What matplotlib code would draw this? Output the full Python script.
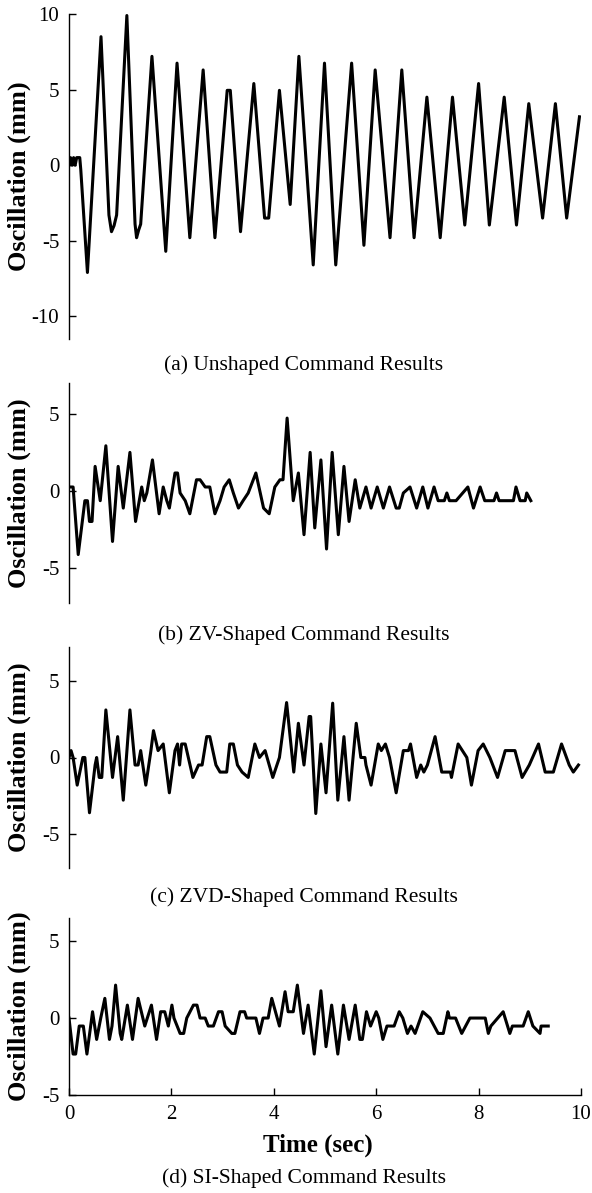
import numpy as np
import matplotlib
matplotlib.use('Agg')
import matplotlib.pyplot as plt

plt.rcParams['font.family'] = 'serif'
plt.rcParams['font.serif'] = ['Liberation Serif', 'DejaVu Serif']
plt.rcParams['axes.unicode_minus'] = False

# (a) unshaped command - turning points
t_a = [0.00, 0.03, 0.06, 0.09, 0.12, 0.15, 0.21, 0.23, 0.36, 0.625, 0.78, 0.83, 0.88, 0.93,
       1.13, 1.29, 1.32, 1.36, 1.40, 1.62, 1.89, 2.11, 2.36, 2.62, 2.85, 3.09, 3.15, 3.35,
       3.61, 3.82, 3.90, 4.11, 4.32, 4.49, 4.77, 4.99, 5.21, 5.52, 5.76, 5.98, 6.27, 6.50,
       6.74, 6.99, 7.25, 7.49, 7.73, 8.00, 8.21, 8.50, 8.74, 8.98, 9.25, 9.50, 9.72, 9.97]
y_a = [0.0, 0.5, 0.0, 0.5, 0.0, 0.5, 0.5, -0.3, -7.1, 8.5, -3.3, -4.4, -4.0, -3.3,
       9.9, -3.9, -4.8, -4.3, -3.9, 7.2, -5.7, 6.75, -4.8, 6.3, -4.8, 4.95, 4.95, -4.4,
       5.4, -3.5, -3.5, 4.95, -2.6, 7.2, -6.6, 6.75, -6.6, 6.75, -5.3, 6.3, -4.8, 6.3,
       -4.8, 4.5, -4.8, 4.5, -3.96, 5.4, -3.96, 4.5, -3.96, 4.07, -3.5, 4.07, -3.5, 3.2]

# (b) ZV-shaped
t_b = [0.00, 0.08, 0.18, 0.31, 0.36, 0.40, 0.45, 0.51, 0.61, 0.72, 0.85, 0.96, 1.06, 1.19,
       1.30, 1.42, 1.47, 1.52, 1.63, 1.76, 1.84, 1.91, 1.96, 2.07, 2.12, 2.17, 2.27, 2.36,
       2.49, 2.56, 2.66, 2.75, 2.85, 2.95, 3.03, 3.13, 3.21, 3.31, 3.40, 3.50, 3.65, 3.80,
       3.91, 4.02, 4.12, 4.18, 4.26, 4.38, 4.48, 4.59, 4.71, 4.80, 4.92, 5.03, 5.14, 5.26,
       5.37, 5.47, 5.59, 5.68, 5.80, 5.90, 6.02, 6.14, 6.26, 6.39, 6.45, 6.53, 6.66, 6.79,
       6.91, 7.01, 7.13, 7.21, 7.33, 7.38, 7.43, 7.56, 7.79, 7.90, 8.03, 8.12, 8.30, 8.35,
       8.40, 8.68, 8.73, 8.81, 8.91, 8.94, 9.02]
y_b = [0.24, 0.24, -4.15, -0.65, -0.65, -2.0, -2.0, 1.58, -0.65, 2.92, -3.3, 1.58, -1.13, 2.49,
       -2.0, 0.24, -0.65, -0.15, 2.0, -1.5, 0.24, -0.65, -1.13, 1.15, 1.15, -0.15, -0.65, -1.5,
       0.71, 0.71, 0.24, 0.24, -1.5, -0.65, 0.24, 0.71, -0.15, -1.13, -0.65, -0.15, 1.15, -1.13,
       -1.5, 0.24, 0.71, 0.71, 4.72, -0.65, 1.15, -2.86, 2.49, -2.42, 2.0, -3.79, 2.49, -2.86,
       1.58, -2.0, 0.71, -1.13, 0.24, -1.13, 0.24, -1.13, 0.24, -1.13, -1.13, -0.15, 0.24, -1.13,
       0.24, -1.13, 0.24, -0.65, -0.65, -0.15, -0.65, -0.65, 0.24, -1.13, 0.24, -0.65, -0.65, -0.15,
       -0.65, -0.65, 0.24, -0.65, -0.65, -0.15, -0.65]

# (c) ZVD-shaped
t_c = [0.00, 0.04, 0.08, 0.16, 0.27, 0.31, 0.40, 0.51, 0.54, 0.59, 0.64, 0.72, 0.85, 0.95,
       1.06, 1.19, 1.29, 1.35, 1.40, 1.50, 1.60, 1.65, 1.74, 1.84, 1.96, 2.07, 2.12, 2.16,
       2.20, 2.27, 2.42, 2.53, 2.60, 2.69, 2.75, 2.87, 2.95, 3.08, 3.14, 3.21, 3.29, 3.38,
       3.50, 3.63, 3.72, 3.83, 3.98, 4.11, 4.25, 4.39, 4.48, 4.59, 4.69, 4.72, 4.82, 4.92,
       5.02, 5.15, 5.25, 5.37, 5.47, 5.61, 5.70, 5.78, 5.80, 5.90, 6.04, 6.10, 6.18, 6.26,
       6.39, 6.53, 6.63, 6.67, 6.79, 6.87, 6.93, 7.00, 7.15, 7.28, 7.45, 7.47, 7.60, 7.77,
       7.86, 7.99, 8.09, 8.22, 8.37, 8.52, 8.71, 8.85, 8.99, 9.17, 9.30, 9.46, 9.62, 9.77,
       9.85, 9.95]
y_c = [0.0, 0.45, 0.0, -1.8, 0.0, 0.0, -3.6, -0.49, 0.0, -1.3, -1.3, 3.1, -1.3, 1.36,
       -2.78, 3.1, -0.49, -0.49, 0.45, -1.8, 0.45, 1.75, 0.45, 0.88, -2.3, 0.45, 0.88, -0.49,
       0.88, 0.88, -1.3, -0.49, -0.49, 1.36, 1.36, -0.49, -0.95, -0.95, 0.88, 0.88, -0.49, -0.95,
       -1.3, 0.88, 0.0, 0.45, -1.3, 0.0, 3.58, -0.95, 2.23, -0.49, 2.67, 2.67, -3.65, 0.88,
       -2.3, 3.54, -2.78, 1.36, -2.78, 2.23, 0.0, 0.0, -0.49, -1.8, 0.88, 0.45, 0.88, 0.0,
       -2.3, 0.45, 0.45, 0.88, -1.3, -0.49, -0.95, -0.49, 1.36, -0.95, -0.95, -1.3, 0.88, 0.0,
       -1.8, 0.45, 0.88, 0.0, -1.3, 0.45, 0.45, -1.3, -0.49, 0.88, -0.95, -0.95, 0.88, -0.49,
       -0.95, -0.49]

# (d) SI-shaped
t_d = [0.00, 0.08, 0.13, 0.20, 0.28, 0.35, 0.46, 0.54, 0.62, 0.70, 0.79, 0.84, 0.91, 1.00,
       1.03, 1.14, 1.24, 1.35, 1.48, 1.61, 1.71, 1.79, 1.87, 1.94, 2.01, 2.05, 2.17, 2.24,
       2.30, 2.43, 2.50, 2.56, 2.66, 2.72, 2.82, 2.92, 2.99, 3.05, 3.18, 3.24, 3.34, 3.43,
       3.47, 3.65, 3.72, 3.79, 3.89, 3.96, 4.11, 4.22, 4.28, 4.38, 4.46, 4.58, 4.67, 4.79,
       4.92, 5.02, 5.13, 5.25, 5.36, 5.47, 5.59, 5.68, 5.73, 5.81, 5.89, 6.00, 6.05, 6.13,
       6.21, 6.35, 6.45, 6.52, 6.61, 6.68, 6.76, 6.91, 7.05, 7.21, 7.31, 7.40, 7.43, 7.55,
       7.67, 7.83, 8.13, 8.19, 8.24, 8.48, 8.61, 8.66, 8.87, 8.97, 9.06, 9.20, 9.22, 9.36]
y_d = [0.0, -2.34, -2.34, -0.52, -0.52, -2.34, 0.41, -1.39, 0.0, 1.28, -1.39, -0.52, 2.14, -1.0,
       -1.39, 0.84, -1.39, 1.28, -0.52, 0.84, -1.39, 0.41, 0.41, -0.52, 0.84, 0.0, -1.0, -1.0,
       0.0, 0.84, 0.84, 0.0, 0.0, -0.52, -0.52, 0.41, 0.41, -0.52, -1.0, -1.0, 0.41, 0.41,
       0.0, 0.0, -1.0, 0.0, 0.0, 1.28, -0.52, 1.71, 0.41, 0.41, 2.14, -1.0, 0.84, -2.34,
       1.77, -1.86, 0.84, -2.34, 0.84, -1.39, 0.84, -1.39, -1.39, 0.41, -0.52, 0.41, 0.0, -1.39,
       -0.52, -0.52, 0.41, 0.0, -1.0, -0.52, -1.0, 0.41, 0.0, -1.0, -1.0, 0.41, 0.0, 0.0,
       -1.0, 0.0, 0.0, -1.0, -0.52, 0.41, -1.0, -0.52, -0.52, 0.41, -0.52, -1.0, -0.52, -0.52]

captions = ['(a) Unshaped Command Results', '(b) ZV-Shaped Command Results',
            '(c) ZVD-Shaped Command Results', '(d) SI-Shaped Command Results']
series = [(t_a, y_a), (t_b, y_b), (t_c, y_c), (t_d, y_d)]
ylims = [(-11.5, 10), (-7.3, 7.0), (-7.2, 7.2), (-5, 6.5)]
yticks = [[-10, -5, 0, 5, 10], [-5, 0, 5], [-5, 0, 5], [-5, 0, 5]]

W, H = 592, 1193
fig = plt.figure(figsize=(W / 100, H / 100), dpi=100)

# axes boxes in pixels: top, bottom
boxes = [(14, 339), (383, 603), (647, 868), (918, 1095)]
cap_y = [365, 635, 897, 1178]
left, right = 69, 581

for i, ((t, y), (top, bot)) in enumerate(zip(series, boxes)):
    ax = fig.add_axes([left / W, 1 - bot / H, (right - left) / W, (bot - top) / H])
    ax.plot(t, y, color='black', lw=2.2)
    ax.set_xlim(0, 10)
    ax.set_ylim(*ylims[i])
    ax.set_yticks(yticks[i])
    ax.spines['top'].set_visible(False)
    ax.spines['right'].set_visible(False)
    ax.spines['left'].set_linewidth(1.0)
    ax.tick_params(axis='y', direction='in', length=5, width=1.0, pad=7, labelsize=15)
    if i < 3:
        ax.spines['bottom'].set_visible(False)
        ax.set_xticks([])
    else:
        ax.spines['bottom'].set_linewidth(1.0)
        ax.set_xticks([0, 2, 4, 6, 8, 10])
        ax.tick_params(axis='x', direction='in', length=5, width=1.0, pad=7, labelsize=15)
    ax.set_ylabel('Oscillation (mm)', fontsize=19, fontweight='bold')
    ax.yaxis.set_label_coords(-0.074, 0.5)
    fig.text(304 / W, 1 - cap_y[i] / H, captions[i], ha='center', va='center', fontsize=15.5)

fig.text(318 / W, 1 - 1145 / H, 'Time (sec)', ha='center', va='center',
         fontsize=18, fontweight='bold')

fig.savefig('out.png', dpi=100)
